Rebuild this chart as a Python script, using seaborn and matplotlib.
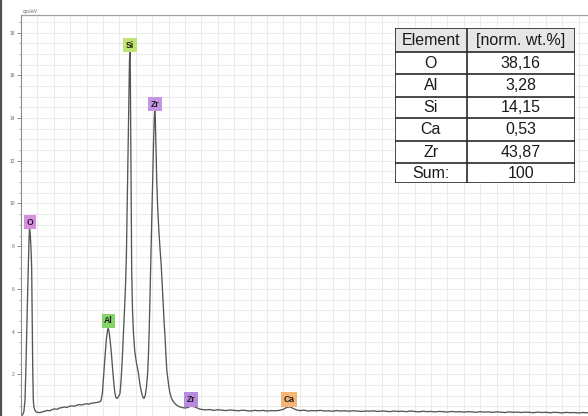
import matplotlib
matplotlib.use("Agg")
import matplotlib.pyplot as plt
from matplotlib.ticker import MultipleLocator, NullFormatter
from matplotlib.lines import Line2D
from matplotlib.patches import Rectangle
import seaborn as sns
import pandas as pd

# ---------------- data ----------------
energy_kev = [
    0.400, 0.420, 0.435, 0.449, 0.459, 0.469, 0.479, 0.489, 0.497, 0.504,
    0.512, 0.522, 0.530, 0.538, 0.544, 0.550, 0.558, 0.571, 0.585,
    0.600, 0.630, 0.660, 0.690, 0.720, 0.750, 0.780, 0.810, 0.840, 0.870,
    0.900, 0.930, 0.960, 0.990, 1.020, 1.050, 1.080, 1.110, 1.140, 1.170,
    1.200, 1.230, 1.260, 1.290, 1.320, 1.350, 1.375,
    1.392, 1.405, 1.424, 1.440, 1.455, 1.465, 1.478, 1.492, 1.506, 1.520,
    1.534, 1.546, 1.557, 1.567, 1.580, 1.595, 1.607,
    1.622, 1.636, 1.648, 1.662, 1.675, 1.685, 1.695, 1.703, 1.710, 1.717,
    1.723, 1.728, 1.733, 1.738, 1.744, 1.750, 1.760, 1.772, 1.787, 1.805,
    1.830, 1.852, 1.872, 1.888, 1.900,
    1.915, 1.930, 1.945, 1.955, 1.965, 1.975, 1.985, 1.995, 2.006, 2.016,
    2.025, 2.031, 2.038, 2.046, 2.055, 2.066, 2.080, 2.095, 2.110, 2.122,
    2.135, 2.146, 2.156, 2.166, 2.178, 2.190, 2.200, 2.215, 2.235, 2.257,
    2.280, 2.310, 2.340, 2.370, 2.400, 2.430, 2.460, 2.490, 2.520, 2.550,
    2.580,
    2.60, 2.65, 2.70, 2.75, 2.80, 2.85, 2.90, 2.95, 3.00, 3.05, 3.10, 3.15,
    3.20, 3.25, 3.30, 3.35, 3.40, 3.45, 3.50, 3.55, 3.60, 3.63, 3.66, 3.69,
    3.72, 3.76, 3.80, 3.85, 3.90, 3.95, 4.00, 4.05, 4.10, 4.15, 4.20, 4.25,
    4.30, 4.35, 4.40, 4.45, 4.50, 4.55, 4.60, 4.65, 4.70, 4.75, 4.80, 4.85,
    4.90, 4.95, 5.00, 5.05, 5.10, 5.15, 5.20, 5.25, 5.30, 5.35, 5.40, 5.45,
    5.50, 5.55, 5.60, 5.65, 5.70, 5.75, 5.80, 5.85, 5.90, 5.95, 6.00, 6.05,
    6.10, 6.15, 6.20, 6.25, 6.30, 6.35, 6.40, 6.45, 6.50, 6.55, 6.60, 6.65,
    6.70, 6.75, 6.80, 6.85, 6.90, 6.95, 7.00, 7.05, 7.10, 7.15, 7.20, 7.25,
    7.30, 7.35,
]
intensity_cps_ev = [
    0.05, 0.10, 0.25, 0.80, 2.20, 3.90, 5.50, 7.00, 8.20, 8.85,
    8.60, 7.90, 7.00, 3.90, 2.00, 0.80, 0.45, 0.30, 0.24,
    0.22, 0.20, 0.24, 0.27, 0.31, 0.29, 0.35, 0.38, 0.36, 0.42,
    0.44, 0.47, 0.45, 0.50, 0.52, 0.50, 0.55, 0.58, 0.56, 0.60,
    0.62, 0.60, 0.65, 0.66, 0.68, 0.70, 0.75,
    1.10, 1.80, 2.80, 3.60, 4.05, 4.15, 3.90, 3.40, 2.80, 2.10,
    1.50, 1.10, 0.92, 0.87, 0.90, 1.00, 1.10,
    1.80, 2.80, 3.80, 5.00, 6.20, 7.50, 9.80, 11.80, 13.60, 15.60,
    16.70, 17.10, 16.20, 13.40, 9.80, 6.80, 5.00, 3.90, 3.10, 2.60,
    2.10, 1.50, 1.10, 0.92, 0.87,
    1.00, 1.40, 2.10, 3.00, 4.30, 6.00, 7.80, 9.50, 11.10, 12.80,
    14.00, 14.40, 14.00, 12.60, 11.10, 9.90, 8.80, 7.90, 7.10, 6.20,
    5.20, 4.40, 3.80, 3.00, 2.20, 1.80, 1.50, 1.15, 0.88, 0.72,
    0.62, 0.52, 0.47, 0.44, 0.42, 0.44, 0.49, 0.50, 0.47, 0.42,
    0.37,
    0.36, 0.33, 0.35, 0.31, 0.34, 0.32, 0.30, 0.33, 0.31, 0.29, 0.32, 0.30,
    0.28, 0.31, 0.29, 0.31, 0.28, 0.30, 0.29, 0.31, 0.36, 0.43, 0.47, 0.46,
    0.40, 0.33, 0.30, 0.32, 0.28, 0.30, 0.29, 0.31, 0.28, 0.29, 0.27, 0.30,
    0.28, 0.29, 0.27, 0.29, 0.28, 0.26, 0.28, 0.27, 0.29, 0.26, 0.28, 0.27,
    0.25, 0.28, 0.26, 0.27, 0.25, 0.28, 0.26, 0.24, 0.27, 0.25, 0.26, 0.24,
    0.26, 0.25, 0.23, 0.26, 0.24, 0.25, 0.23, 0.25, 0.24, 0.22, 0.25, 0.23,
    0.24, 0.22, 0.24, 0.23, 0.21, 0.24, 0.22, 0.23, 0.21, 0.23, 0.22, 0.20,
    0.23, 0.21, 0.22, 0.20, 0.22, 0.21, 0.19, 0.22, 0.20, 0.21, 0.19, 0.21,
    0.20, 0.19,
]

peak_labels = ["O", "Al", "Si", "Zr", "Zr", "Ca"]
peak_label_energy = [0.510, 1.467, 1.730, 2.034, 2.473, 3.668]
peak_label_height = [9.13, 4.50, 17.42, 14.66, 0.82, 0.82]
peak_label_colors = ["#d98fe0", "#86d36a", "#bfe46f", "#c694e4", "#b98be0", "#f6b575"]

table_header = ["Element", "[norm. wt.%]"]
table_elements = ["O", "Al", "Si", "Ca", "Zr", "Sum:"]
table_values = ["38,16", "3,28", "14,15", "0,53", "43,87", "100"]

y_tick_values = [0, 2, 4, 6, 8, 10, 12, 14, 16, 18]
y_unit_label = "cps/eV"

# ---------------- figure ----------------
sns.set_theme(style="whitegrid")
plt.rcParams["font.family"] = ["Liberation Sans", "DejaVu Sans"]

W, H = 588, 416
fig = plt.figure(figsize=(W / 100, H / 100), dpi=100)
fig.patch.set_facecolor("white")

ax = fig.add_axes([21 / W, -1 / H, 1 - 21 / W, 402 / H])
df = pd.DataFrame({"energy": energy_kev, "cps": intensity_cps_ev})
sns.lineplot(data=df, x="energy", y="cps", ax=ax, color="#555555",
             linewidth=0.95, estimator=None, sort=False)

ax.set_xlim(0.4, 0.4 + 567 / 82)
ax.set_ylim(0, 402 / 21.35)
ax.set_xlabel("")
ax.set_ylabel("")
ax.set_facecolor("white")

ax.xaxis.set_major_locator(MultipleLocator(0.2))
ax.xaxis.set_major_formatter(NullFormatter())
ax.set_yticks(y_tick_values)
# the "0" label lies below the visible area in the reference
ax.set_yticklabels(["" if v == 0 else str(v) for v in y_tick_values])
ax.yaxis.set_minor_locator(MultipleLocator(0.5))
ax.grid(which="both", color="#ebebeb", linewidth=0.7)
ax.set_axisbelow(True)
ax.tick_params(axis="x", which="both", bottom=False, labelbottom=False)
ax.tick_params(axis="y", which="major", left=True, length=3, width=0.6,
               color="#777777", labelsize=3.5, labelcolor="#666666", pad=1.5)
ax.tick_params(axis="y", which="minor", left=True, length=1.6, width=0.5,
               color="#888888")
for side in ["bottom", "right"]:
    ax.spines[side].set_visible(False)
ax.spines["top"].set_color("#a0a0a0")
ax.spines["top"].set_linewidth(0.9)
ax.spines["left"].set_color("#8a8a8a")
ax.spines["left"].set_linewidth(0.8)

fig.text(23 / W, 1 - 12 / H, y_unit_label, fontsize=3.5, color="#666666",
         va="center", ha="left")

for lab, e, h, c in zip(peak_labels, peak_label_energy, peak_label_height, peak_label_colors):
    ax.text(e, h, lab, ha="center", va="center", fontsize=6.2, color="#1e1e1e",
            fontweight="bold",
            bbox=dict(boxstyle="square,pad=0.3", fc=c, ec="none"), zorder=5)

# left dark border of the screenshot
fig.add_artist(Line2D([1 / W, 1 / W], [0, 1], transform=fig.transFigure,
                      color="#505050", linewidth=1.6))

# ---------------- table ----------------
tx0, ty0, tw, th = 395, 28.3, 180, 155
tab = fig.add_axes([tx0 / W, 1 - (ty0 + th) / H, tw / W, th / H])
tab.set_xlim(0, tw)
tab.set_ylim(th, 0)
tab.axis("off")
col_edges = [0, 71.7, tw]
row_edges = [0, 24, 46, 68.4, 90, 112.4, 134.4, th]
tab.add_patch(Rectangle((0, 0), tw, th, fc="white", ec="none", zorder=1))
tab.add_patch(Rectangle((0, 0), tw, row_edges[1], fc="#e6e6e6", ec="none", zorder=1))
for yv in row_edges:
    tab.plot([0, tw], [yv, yv], color="#2a2a2a", lw=1.2, zorder=3, solid_capstyle="projecting")
for xv in col_edges:
    tab.plot([xv, xv], [0, th], color="#2a2a2a", lw=1.2, zorder=3, solid_capstyle="projecting")
xc = [(col_edges[0] + col_edges[1]) / 2, (col_edges[1] + col_edges[2]) / 2]
rows = [table_header] + [[a, b] for a, b in zip(table_elements, table_values)]
for i, row in enumerate(rows):
    yc = (row_edges[i] + row_edges[i + 1]) / 2 + 0.5
    for j, txt in enumerate(row):
        tab.text(xc[j], yc, txt, ha="center", va="center", fontsize=11.5,
                 color="#1a1a1a", zorder=4)

fig.savefig("out.png", dpi=100)
